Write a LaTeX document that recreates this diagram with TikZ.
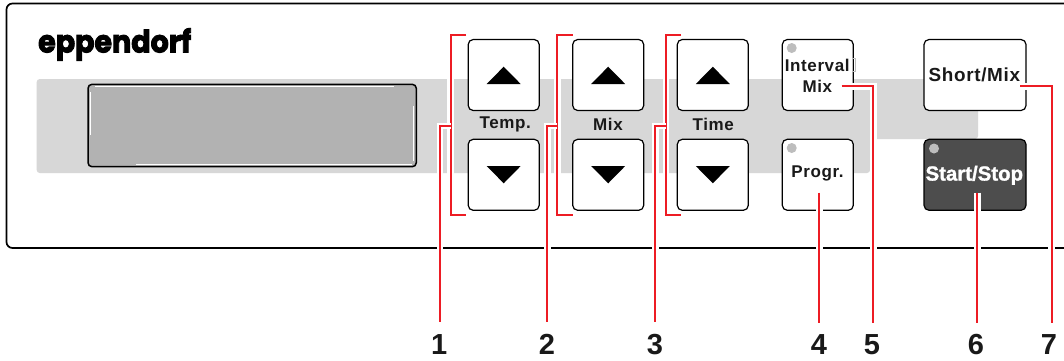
\documentclass[tikz,border=0pt]{standalone}
\usepackage{fontspec}
\setmainfont{Liberation Sans}
\newfontfamily\logofont[FakeBold=3]{Poppins}
\newfontfamily\keyfont[LetterSpace=3.5]{Liberation Sans}
\newfontfamily\startfont[LetterSpace=0,FakeBold=1.2]{Liberation Sans}
\definecolor{leader}{HTML}{ED1C24}
\definecolor{band}{HTML}{D7D7D7}
\definecolor{lcd}{HTML}{B2B2B2}
\definecolor{led}{HTML}{BDBDBD}
\definecolor{dark}{HTML}{4D4D4D}
\tikzset{
  x=1pt,y=-1pt,
  key/.style={draw=black,line width=1.2pt,fill=white,rounded corners=5pt,inner sep=0pt,minimum width=71pt,minimum height=71pt},
  widekey/.style={key,minimum width=102pt},
  darkkey/.style={widekey,fill=dark},
  keytext/.style={inner sep=0pt,font=\keyfont\bfseries\fontsize{17}{18}\selectfont,text=black!90},
  widetext/.style={keytext,font=\keyfont\bfseries\fontsize{18.9}{20}\selectfont},
  num/.style={inner sep=0pt,font=\bfseries\fontsize{29}{31}\selectfont,text=black!90},
  leaderline/.style={draw=leader,line width=2pt,preaction={draw=white,line width=6.5pt}},
  triup/.style={fill=black,draw=none},
  ledmark/.style={circle,fill=led,draw=none,minimum size=10pt,inner sep=0pt},
}
\begin{document}
\begin{tikzpicture}
\useasboundingbox (0,0) rectangle (1064,360);
\fill[white] (0,0) rectangle (1064,360);
% housing
\draw[black,line width=1.7pt,rounded corners=6pt] (1064,3.5) -- (6.5,3.5) -- (6.5,248) -- (1064,248);
% band
\fill[band,rounded corners=3pt] (36.7,79) -- (978,79) -- (978,139) -- (870,139) -- (870,173) -- (36.7,173) -- cycle;
% display
\draw[black,fill=lcd,line width=1.5pt,rounded corners=4pt] (88,84.3) rectangle (416.3,166.7);
\draw[white,line width=1pt] (95,86.5) -- (394,86.5) (413.8,106) -- (413.8,161) (136,164) -- (412,164) (90.3,92) -- (90.3,135);
% logo
\node[inner sep=0pt,anchor=base west,xscale=.92,transform shape,font=\logofont\bfseries\fontsize{31}{32}\selectfont] (logo) at (38,52.5) {eppendorf};
% keys
\node[key] (tup) at (503.7,75) {};
\node[key] (tdn) at (503.7,174.8) {};
\node[key] (mup) at (608.2,75) {};
\node[key] (mdn) at (608.2,174.8) {};
\node[key] (cup) at (712.8,75) {};
\node[key] (cdn) at (712.8,174.8) {};
\node[key] (ivl) at (817.8,75) {};
\node[key] (prg) at (817.8,174.8) {};
\node[widekey] (sht) at (975,75) {};
\node[darkkey] (sts) at (975,174.8) {};
% arrows
\foreach \k in {tup,mup,cup}{\fill[triup] (\k.center) ++(-17,9) -- ++(34,0) -- ++(-17,-17.3) -- cycle;}
\foreach \k in {tdn,mdn,cdn}{\fill[triup] (\k.center) ++(-17,-8.8) -- ++(34,0) -- ++(-17,17.3) -- cycle;}
% LEDs
\node[ledmark] (l1) at (791.7,48) {};
\node[ledmark] (l2) at (791.7,148) {};
\node[ledmark] (l3) at (934,148.5) {};
% captions
\node[keytext] (ttemp) at (505.3,124) {Temp.};
\node[keytext] (tmix) at (608,124) {Mix};
\node[keytext] (ttime) at (713.3,124) {Time};
\node[keytext,anchor=west] (tint) at (784.7,65.7) {Interval};
\draw[led,line width=.8pt] (852.2,58.5) rectangle (855.6,71.5);
\node[keytext] (tim) at (817.3,86.3) {Mix};
\node[keytext] (tprg) at (817.5,173) {Progr.};
\node[widetext] (tsht) at (974.3,75.3) {Short/Mix};
\node[inner sep=0pt,text=white,font=\startfont\bfseries\fontsize{20.4}{22}\selectfont] (tsts) at (974.3,175.3) {Start/Stop};
% numbers
\node[num] (n1) at (439.3,344.5) {1};
\node[num] (n2) at (547,344.5) {2};
\node[num] (n3) at (655,344.5) {3};
\node[num] (n4) at (819,344.5) {4};
\node[num] (n5) at (872,344.5) {5};
\node[num] (n6) at (976,344.5) {6};
\node[num] (n7) at (1049,344.5) {7};
% leader coordinates
\coordinate (b1) at (450.7,126);
\coordinate (b2) at (557.3,126);
\coordinate (b3) at (666,126);
\coordinate (e1) at (440,322);
\coordinate (e2) at (547.3,322);
\coordinate (e3) at (655.3,322);
\coordinate (s4) at (819.3,192.7);
\coordinate (e4) at (819.3,323);
\coordinate (s5) at (841.7,86.3);
\coordinate (e5) at (873.3,323);
\coordinate (s6) at (977.3,192.7);
\coordinate (e6) at (977.3,323);
\coordinate (s7) at (1020,86.3);
\coordinate (e7) at (1051.7,323);
% leaders
\draw[leaderline] (466,35) -- (450.7,35) -- (450.7,215.3) -- (466,215.3);
\draw[leaderline] (572.7,35) -- (557.3,35) -- (557.3,215.3) -- (572.7,215.3);
\draw[leaderline] (681,35) -- (666,35) -- (666,215.3) -- (681,215.3);
\draw[leaderline] (b1) -| (e1);
\draw[leaderline] (b2) -| (e2);
\draw[leaderline] (b3) -| (e3);
\draw[leaderline] (s4) -- (e4);
\draw[leaderline] (s5) -| (e5);
\draw[leaderline] (s6) -- (e6);
\draw[leaderline] (s7) -| (e7);
\end{tikzpicture}
\end{document}
